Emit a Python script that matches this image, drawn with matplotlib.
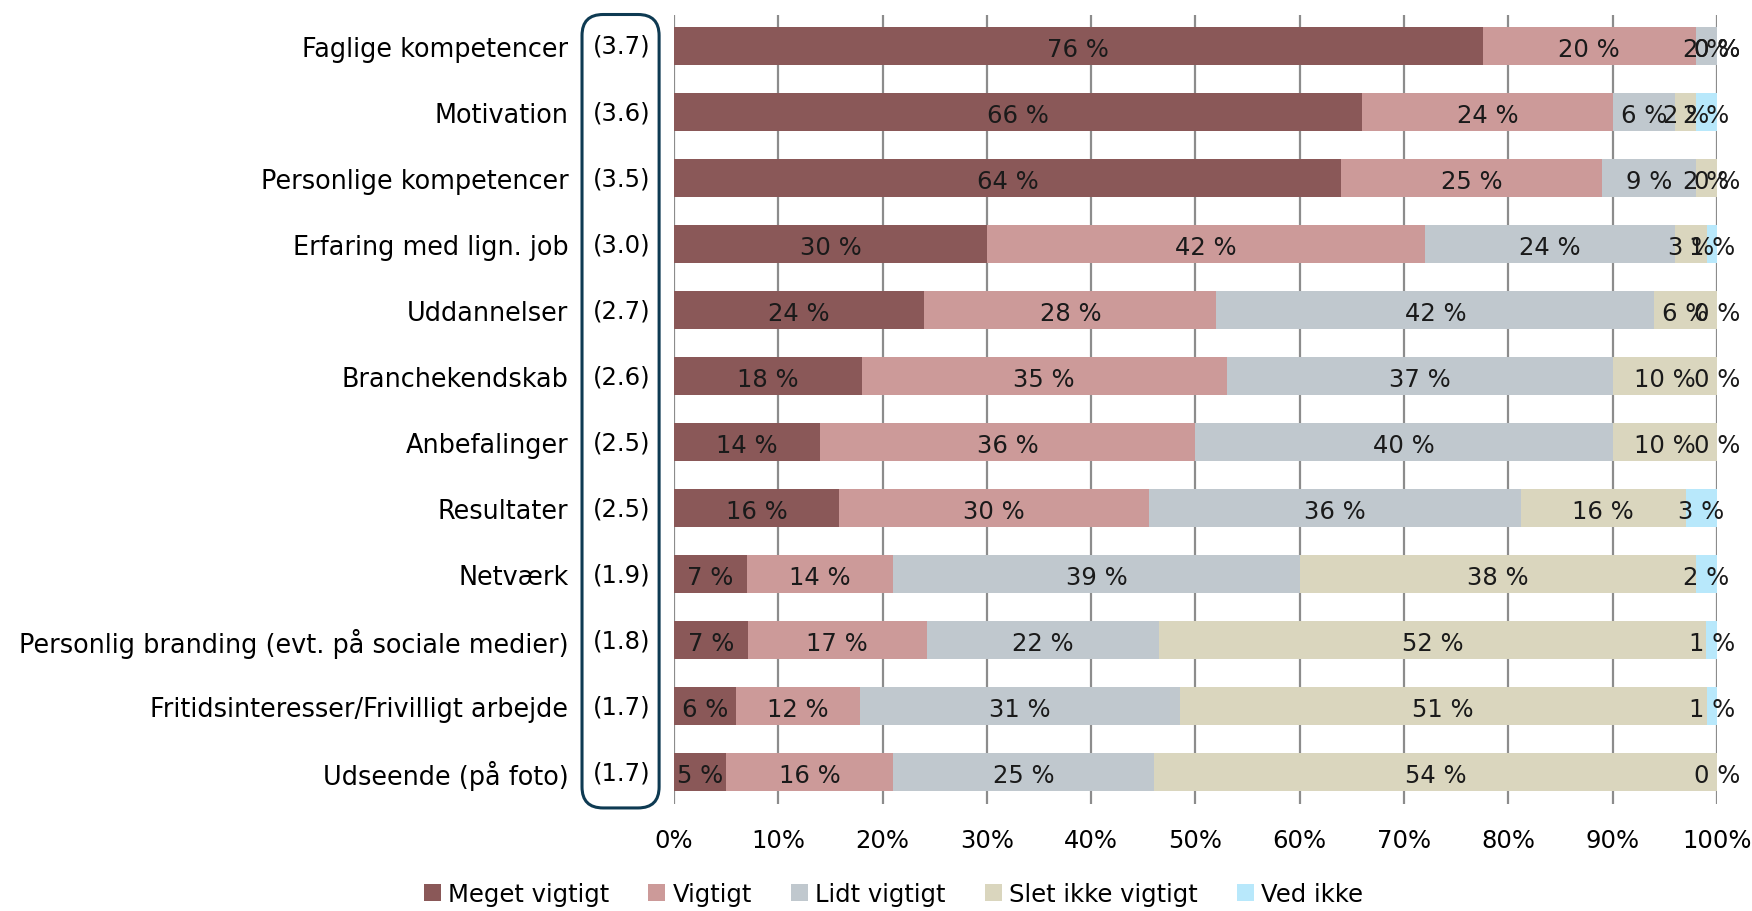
import numpy as np
import matplotlib
matplotlib.use('Agg')
import matplotlib.pyplot as plt
from matplotlib.patches import FancyBboxPatch
from matplotlib.transforms import blended_transform_factory

# Data ------------------------------------------------------
kategorier = ['Faglige kompetencer', 'Motivation', 'Personlige kompetencer',
              'Erfaring med lign. job', 'Uddannelser', 'Branchekendskab',
              'Anbefalinger', 'Resultater', 'Netværk',
              'Personlig branding (evt. på sociale medier)',
              'Fritidsinteresser/Frivilligt arbejde', 'Udseende (på foto)']
gennemsnit = [3.7, 3.6, 3.5, 3.0, 2.7, 2.6, 2.5, 2.5, 1.9, 1.8, 1.7, 1.7]

meget_vigtigt = [76, 66, 64, 30, 24, 18, 14, 16, 7, 7, 6, 5]
vigtigt       = [20, 24, 25, 42, 28, 35, 36, 30, 14, 17, 12, 16]
lidt_vigtigt  = [2, 6, 9, 24, 42, 37, 40, 36, 39, 22, 31, 25]
slet_ikke     = [0, 2, 2, 3, 6, 10, 10, 16, 38, 52, 51, 54]
ved_ikke      = [0, 2, 0, 1, 0, 0, 0, 3, 2, 1, 1, 0]

serier = ['Meget vigtigt', 'Vigtigt', 'Lidt vigtigt', 'Slet ikke vigtigt', 'Ved ikke']
farver = ['#8a5858', '#cc9a99', '#c0c8ce', '#dad6be', '#b8e8fb']

# -----------------------------------------------------------
plt.rcParams['font.family'] = ['DejaVu Sans']
fs = 17.5

data = np.array([meget_vigtigt, vigtigt, lidt_vigtigt, slet_ikke, ved_ikke], dtype=float)
andel = data / data.sum(axis=0) * 100      # normaliseret til 100 %

fig = plt.figure(figsize=(17.52, 9.12), dpi=100)
ax = fig.add_axes([0.3847, 0.1173, 0.5953, 0.8652])

y = np.arange(len(kategorier))
venstre = np.zeros(len(kategorier))
for i, navn in enumerate(serier):
    ax.barh(y, andel[i], left=venstre, height=0.58, color=farver[i], label=navn, zorder=3)
    for j in range(len(kategorier)):
        ax.text(venstre[j] + andel[i][j] / 2, y[j] + 0.04, f'{int(data[i][j])} %',
                ha='center', va='center', fontsize=fs, color='#1a1a1a', zorder=4)
    venstre += andel[i]

ax.set_xlim(0, 100)
ax.set_ylim(11.48, -0.47)
ax.set_xticks(np.arange(0, 101, 10))
ax.set_xticklabels([f'{v}%' for v in range(0, 101, 10)], fontsize=fs)
ax.set_yticks(y)
ax.set_yticklabels(kategorier, fontsize=18.4)
ax.tick_params(axis='x', length=0, pad=17)
ax.tick_params(axis='y', length=0, pad=76)
ax.grid(axis='x', color='#8c8c8c', linewidth=1.6, zorder=0)
for s in ax.spines.values():
    s.set_visible(False)

# Gennemsnit i boks
trans = blended_transform_factory(fig.transFigure, ax.transData)
for j, g in enumerate(gennemsnit):
    ax.text(0.3550, y[j], f'({g:.1f})', transform=trans, ha='center', va='center',
            fontsize=fs, clip_on=False)
boks = FancyBboxPatch((0.3322, 0.1130), 0.0440, 0.8700, transform=fig.transFigure,
                      boxstyle='round,pad=0,rounding_size=0.012', fill=False,
                      edgecolor='#0e3a52', linewidth=2.2, mutation_aspect=1.92)
fig.patches.append(boks)

fig.legend(loc='center', bbox_to_anchor=(0.51, 0.019), ncol=5, frameon=False,
           fontsize=fs, handlelength=0.7, handleheight=0.7, handletextpad=0.3,
           columnspacing=1.6)

plt.savefig('out.png', dpi=100)
